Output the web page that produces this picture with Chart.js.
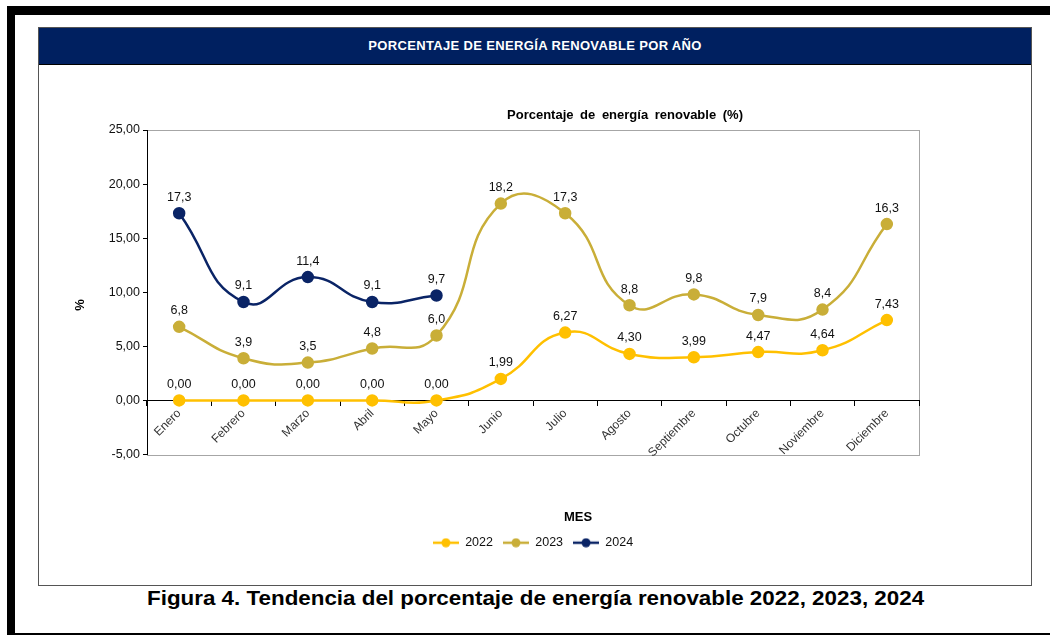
<!DOCTYPE html>
<html>
<head>
<meta charset="utf-8">
<script src="https://cdn.jsdelivr.net/npm/chart.js@4.4.0/dist/chart.umd.min.js"></script>
<style>
  body { margin: 0; width: 1050px; height: 635px; background: #fff; position: relative; overflow: hidden;
         font-family: "Liberation Sans", Arial, sans-serif; }
  .negro { position: absolute; background: #000; }
  #caja { position: absolute; left: 38px; top: 27px; width: 992px; height: 557px; border: 1px solid #555; }
  #cabecera { position: absolute; left: 0; top: 0; width: 992px; height: 36px; background: #002060;
              border-bottom: 1px solid #000; color: #fff; font-weight: bold; font-size: 13px;
              letter-spacing: 0.35px; text-align: center; line-height: 36px; }
  #lienzo { position: absolute; left: 39px; top: 65px; width: 991px; height: 519px; }
  #pie { position: absolute; left: 0; top: 586px; width: 1072px; text-align: center; white-space: nowrap; }
  #pie span { display: inline-block; font-weight: bold; font-size: 21px; color: #000; transform-origin: center; }
</style>
</head>
<body>
<div class="negro" style="left:7px; top:6px; width:1043px; height:9px;"></div>
<div class="negro" style="left:7px; top:6px; width:8px; height:629px;"></div>
<div class="negro" style="left:7px; top:633px; width:1043px; height:2px;"></div>
<div id="caja"><div id="cabecera">PORCENTAJE DE ENERGÍA RENOVABLE POR AÑO</div></div>
<div id="lienzo"><canvas id="grafico" width="991" height="519"></canvas></div>
<div id="pie"><span id="pieTexto">Figura 4. Tendencia del porcentaje de energía renovable 2022, 2023, 2024</span></div>
<script>
var meses = ["Enero", "Febrero", "Marzo", "Abril", "Mayo", "Junio", "Julio", "Agosto",
             "Septiembre", "Octubre", "Noviembre", "Diciembre"];
var anios = ["2022", "2023", "2024"];
var serie2022 = [0.00, 0.00, 0.00, 0.00, 0.00, 1.99, 6.27, 4.30, 3.99, 4.47, 4.64, 7.43];
var serie2023 = [6.8, 3.9, 3.5, 4.8, 6.0, 18.2, 17.3, 8.8, 9.8, 7.9, 8.4, 16.3];
var serie2024 = [17.3, 9.1, 11.4, 9.1, 9.7, null, null, null, null, null, null, null];
var decimales = [2, 1, 1];
var colores = ["#FFC000", "#C9AE38", "#0A2466"];
var ejeYMin = -5, ejeYMax = 25, ejeYPaso = 5;

// ancho del pie de figura ajustado al original
var pie = document.getElementById("pieTexto");
pie.style.transform = "scaleX(" + (777 / pie.offsetWidth) + ")";

function coma(v, d) {
    return v.toFixed(d).replace(".", ",");
}

// icono de leyenda: linea con punto
function iconoLeyenda(color) {
    var c = document.createElement("canvas");
    c.width = 26; c.height = 10;
    var ctx = c.getContext("2d");
    ctx.strokeStyle = color; ctx.lineWidth = 2.5;
    ctx.beginPath(); ctx.moveTo(0, 5); ctx.lineTo(26, 5); ctx.stroke();
    ctx.fillStyle = color;
    ctx.beginPath(); ctx.arc(13, 5, 4.5, 0, Math.PI * 2); ctx.fill();
    return c;
}
var iconos = colores.map(iconoLeyenda);

var textosPlugin = {
    id: "textos",
    beforeDraw: function (chart) {
        var a = chart.chartArea, ctx = chart.ctx;
        ctx.save();
        ctx.strokeStyle = "#a6a6a6";
        ctx.lineWidth = 1;
        ctx.strokeRect(Math.round(a.left) + 0.5, Math.round(a.top) + 0.5,
            Math.round(a.right - a.left), Math.round(a.bottom - a.top));
        ctx.restore();
    },
    afterDatasetsDraw: function (chart) {
        var ctx = chart.ctx;
        ctx.save();
        ctx.font = "12.5px 'Liberation Sans', Arial";
        ctx.fillStyle = "#111";
        ctx.textAlign = "center";
        ctx.textBaseline = "middle";
        chart.data.datasets.forEach(function (ds, i) {
            var meta = chart.getDatasetMeta(i);
            meta.data.forEach(function (p, j) {
                var v = ds.data[j];
                if (v === null) return;
                ctx.fillText(coma(v, decimales[i]), p.x, p.y - 16);
            });
        });
        ctx.restore();
    },
    afterDraw: function (chart) {
        var ctx = chart.ctx;
        ctx.save();
        ctx.fillStyle = "#000";
        ctx.textAlign = "center";
        ctx.textBaseline = "middle";
        ctx.font = "bold 13px 'Liberation Sans', Arial";
        if ("wordSpacing" in ctx) ctx.wordSpacing = "3px";
        ctx.fillText("Porcentaje de energía renovable (%)", 586, 50);
        if ("wordSpacing" in ctx) ctx.wordSpacing = "0px";
        ctx.fillText("MES", 539, 452);
        ctx.translate(41, 240);
        ctx.rotate(-Math.PI / 2);
        ctx.fillText("%", 0, 0);
        ctx.restore();
    }
};

var grafico = new Chart(document.getElementById("grafico").getContext("2d"), {
    type: "line",
    data: {
        labels: meses,
        datasets: [serie2022, serie2023, serie2024].map(function (serie, i) {
            return {
                label: anios[i],
                data: serie,
                borderColor: colores[i],
                backgroundColor: colores[i],
                pointBackgroundColor: colores[i],
                pointBorderColor: colores[i],
                borderWidth: 2.5,
                pointRadius: 5,
                pointHoverRadius: 5,
                tension: 0.5,
                fill: false
            };
        })
    },
    options: {
        responsive: false,
        animation: false,
        events: [],
        layout: { padding: { top: 65, right: 111, left: 0, bottom: 25 } },
        scales: {
            x: {
                type: "category",
                position: { y: 0 },
                offset: true,
                afterFit: function (s) { s.height = 0; },
                grid: { drawOnChartArea: false, drawTicks: true, tickLength: 5, color: "#000", offset: true },
                border: { color: "#000", width: 1 },
                ticks: {
                    autoSkip: false, minRotation: 45, maxRotation: 45, padding: 1,
                    color: "#333", font: { family: "'Liberation Sans', Arial", size: 12 }
                }
            },
            y: {
                min: ejeYMin,
                max: ejeYMax,
                afterFit: function (s) { s.width = 108; },
                grid: { drawOnChartArea: false, drawTicks: true, tickLength: 4, color: "#000" },
                border: { color: "#000", width: 1 },
                ticks: {
                    stepSize: ejeYPaso, padding: 3, color: "#111",
                    font: { family: "'Liberation Sans', Arial", size: 12.5 },
                    callback: function (v) { return coma(v, 2); }
                }
            }
        },
        plugins: {
            tooltip: { enabled: false },
            legend: {
                position: "bottom",
                fullSize: false,
                title: { display: true, text: "", font: { size: 12, lineHeight: 1.2 }, padding: { top: 57.6, bottom: 0 } },
                labels: {
                    usePointStyle: true,
                    pointStyleWidth: 26,
                    padding: 10,
                    color: "#111",
                    font: { family: "'Liberation Sans', Arial", size: 12.5 },
                    generateLabels: function (chart) {
                        var items = Chart.defaults.plugins.legend.labels.generateLabels(chart);
                        items.forEach(function (it, i) { it.pointStyle = iconos[i]; });
                        return items;
                    }
                }
            }
        }
    },
    plugins: [textosPlugin]
});
</script>
</body>
</html>
